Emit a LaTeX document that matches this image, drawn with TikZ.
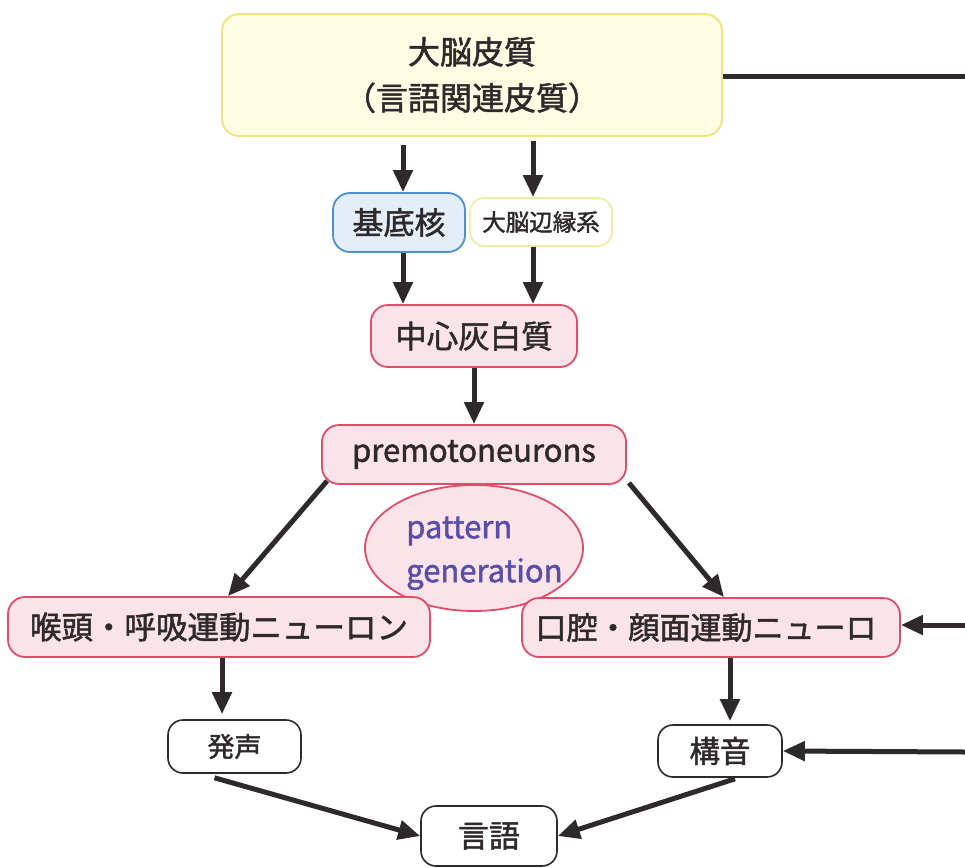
\documentclass[tikz,border=0pt]{standalone}
\usepackage{fontspec}
\setmainfont{Noto Sans CJK JP}[FakeBold=1.6]
\usetikzlibrary{arrows.meta,shapes.geometric}
\definecolor{ink}{HTML}{2E2A2B}
\definecolor{yb}{HTML}{F0E27C}
\definecolor{yf}{HTML}{FFFCE4}
\definecolor{bb}{HTML}{4F8FCB}
\definecolor{bf}{HTML}{E4EEF8}
\definecolor{lb}{HTML}{EBEFA6}
\definecolor{rb}{HTML}{E04D6A}
\definecolor{rf}{HTML}{FBE3EA}
\definecolor{pg}{HTML}{5A4FA8}
\tikzset{
  box/.style={draw, line width=1.8pt, rounded corners=17pt, inner sep=0pt, text=ink, align=center},
  ybox/.style={box, draw=yb, fill=yf},
  bbox/.style={box, draw=bb, fill=bf},
  lbox/.style={box, draw=lb, fill=white, rounded corners=14pt},
  rbox/.style={box, draw=rb, fill=rf},
  wbox/.style={box, draw=ink, fill=white, line width=1.6pt, rounded corners=15pt},
  arr/.style={draw=ink, line width=5pt, -{Triangle[length=22pt,width=19pt]}},
  plain/.style={draw=ink, line width=5pt},
  fs/.style={font=\fontsize{#1}{#1}\selectfont}
}
\begin{document}
\begin{tikzpicture}[x=1pt,y=-1pt]
\useasboundingbox (0,0) rectangle (965,867);
\node[ybox, minimum width=500, minimum height=122, fs=32, align=center] (top) at (472,75)
  {大脳皮質\\[14pt]（言語関連皮質）};
\node[bbox, minimum width=132, minimum height=59, fs=31] (kitei) at (399,222.5) {基底核};
\node[lbox, minimum width=142, minimum height=48, fs=23.5] (limbic) at (541,222) {大脳辺縁系};
\node[rbox, minimum width=206, minimum height=62, fs=31.5] (chuu) at (474,336) {中心灰白質};
\node[rbox, minimum width=304, minimum height=59, fs=31] (pre) at (474,454.5) {premotoneurons};
\node[ellipse, draw=rb, line width=1.8pt, fill=rf, minimum width=218, minimum height=126, inner sep=0pt] (ell) at (474,548) {};
\node[anchor=west, text=pg, fs=31, inner sep=0pt] (pat) at (406,531) {pattern};
\node[anchor=west, text=pg, fs=31, inner sep=0pt] (gen) at (406,574) {generation};
\node[rbox, minimum width=422, minimum height=60, fs=31.5] (left) at (219,627) {喉頭・呼吸運動ニューロン};
\node[rbox, minimum width=378, minimum height=59, fs=31] (right) at (711,627.5) {\hspace*{2pt}口腔・顔面運動ニューロ\hspace*{12pt}};
\node[wbox, minimum width=133, minimum height=53, fs=27] (hassei) at (234.5,746.5) {発声};
\node[wbox, minimum width=124, minimum height=52, fs=30.5] (kouon) at (720,751) {構音};
\node[wbox, minimum width=136, minimum height=60, fs=31] (gengo) at (489,836) {言語};
\coordinate (e1) at (965,76);
\coordinate (e2) at (965,625);
\coordinate (e3) at (965,752);
% connectors
\draw[plain] (top.east |- e1) -- (e1);
\draw[arr, shorten <=8pt] ([xshift=4pt]top.south -| kitei.north) -- ([xshift=4pt]kitei.north);
\draw[arr, shorten <=4pt] ([xshift=-8pt]top.south -| limbic.north) -- ([xshift=-8pt]limbic.north);
\draw[arr] ([xshift=4pt]kitei.south) -- ([xshift=4pt]kitei.south |- chuu.north);
\draw[arr] ([xshift=-8pt]limbic.south) -- ([xshift=-8pt]limbic.south |- chuu.north);
\draw[arr] (chuu.south) -- (pre.north);
\draw[arr] ([xshift=6pt,yshift=4pt]pre.south west) -- ([xshift=9pt]left.north);
\draw[arr] ([xshift=2pt,yshift=2pt]pre.south east) -- ([xshift=13pt]right.north);
\draw[arr] ([xshift=3pt]left.south) -- ([xshift=3pt,yshift=5pt]left.south |- hassei.north);
\draw[arr] ([xshift=19pt]right.south) -- ([xshift=19pt,yshift=3pt]right.south |- kouon.north);
\draw[arr] ([xshift=-20pt,yshift=-4pt]hassei.south) -- (gengo.west);
\draw[arr] ([xshift=15pt,yshift=-1pt]kouon.south) -- (gengo.east);
\draw[arr] (e2) -- (e2 -| right.east);
\draw[arr] (e3) -- (kouon.east);
\end{tikzpicture}
\end{document}
